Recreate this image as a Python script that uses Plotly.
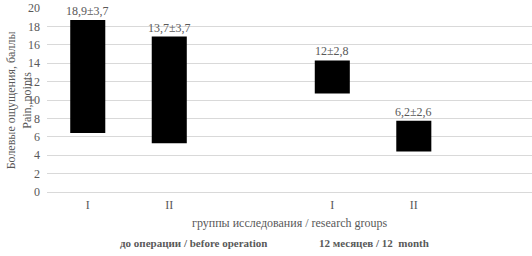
import plotly.graph_objects as go

# data
x_pos = [0, 1, 3, 4]
tick_vals = [0, 1, 3, 4]
tick_text = ["I", "II", "I", "II"]
bar_low = [6.4, 5.3, 10.7, 4.4]
bar_high = [18.7, 16.9, 14.3, 7.75]
bar_labels = ["18,9±3,7", "13,7±3,7", "12±2,8", "6,2±2,6"]
period_labels = ["до операции / before operation", "12 месяцев / 12  month"]
x_title = "группы исследования / research groups"
y_title = "Болевые ощущения, баллы<br>Pain, points"
y_ticks = list(range(0, 21, 2))

FONT = "Liberation Serif"
GRAY = "#595959"

fig = go.Figure()
fig.add_trace(go.Bar(
    x=x_pos,
    y=[h - l for h, l in zip(bar_high, bar_low)],
    base=bar_low,
    width=0.43,
    marker=dict(color="black", line=dict(width=0)),
    hoverinfo="skip",
))

for xp, top, lab in zip(x_pos, bar_high, bar_labels):
    fig.add_annotation(x=xp, y=top, text=lab, showarrow=False,
                       yanchor="bottom", yshift=0,
                       font=dict(family=FONT, size=12, color=GRAY))

fig.add_annotation(x=0.5, y=-0.168, xref="paper", yref="paper",
                   text=x_title, showarrow=False,
                   xanchor="center", yanchor="middle",
                   font=dict(family=FONT, size=12, color=GRAY))
fig.add_annotation(x=-0.057, y=0.5, xref="paper", yref="paper",
                   text=y_title, showarrow=False, textangle=-90,
                   xanchor="center", yanchor="middle",
                   font=dict(family=FONT, size=12, color=GRAY))
fig.add_annotation(x=0.303, y=-0.277, xref="paper", yref="paper",
                   text="<b>" + period_labels[0] + "</b>", showarrow=False,
                   xanchor="center", yanchor="middle",
                   font=dict(family=FONT, size=11, color=GRAY))
fig.add_annotation(x=0.674, y=-0.277, xref="paper", yref="paper",
                   text="<b>" + period_labels[1] + "</b>", showarrow=False,
                   xanchor="center", yanchor="middle",
                   font=dict(family=FONT, size=11, color=GRAY))

fig.update_layout(
    width=532, height=256,
    margin=dict(l=47, r=0, t=8, b=64),
    paper_bgcolor="white", plot_bgcolor="white",
    showlegend=False,
    font=dict(family=FONT, size=12, color=GRAY),
    xaxis=dict(
        range=[-0.5, 5.45], automargin=False,
        tickmode="array", tickvals=tick_vals, ticktext=tick_text,
        showgrid=False, zeroline=False, showline=False, ticks="",
        ticklabelstandoff=4,
        tickfont=dict(family=FONT, size=12, color=GRAY),
    ),
    yaxis=dict(
        range=[0, 20], tickmode="array", tickvals=y_ticks, automargin=False,
        showgrid=True, gridcolor="#d9d9d9", gridwidth=1,
        zeroline=True, zerolinecolor="#d9d9d9", zerolinewidth=1,
        showline=False, ticks="", ticklabelstandoff=6,
        tickfont=dict(family=FONT, size=12, color=GRAY),
    ),
)

fig.write_html("out.html",
               config={"displayModeBar": False},
               post_script="document.body.style.margin='0';document.body.style.padding='0';")
